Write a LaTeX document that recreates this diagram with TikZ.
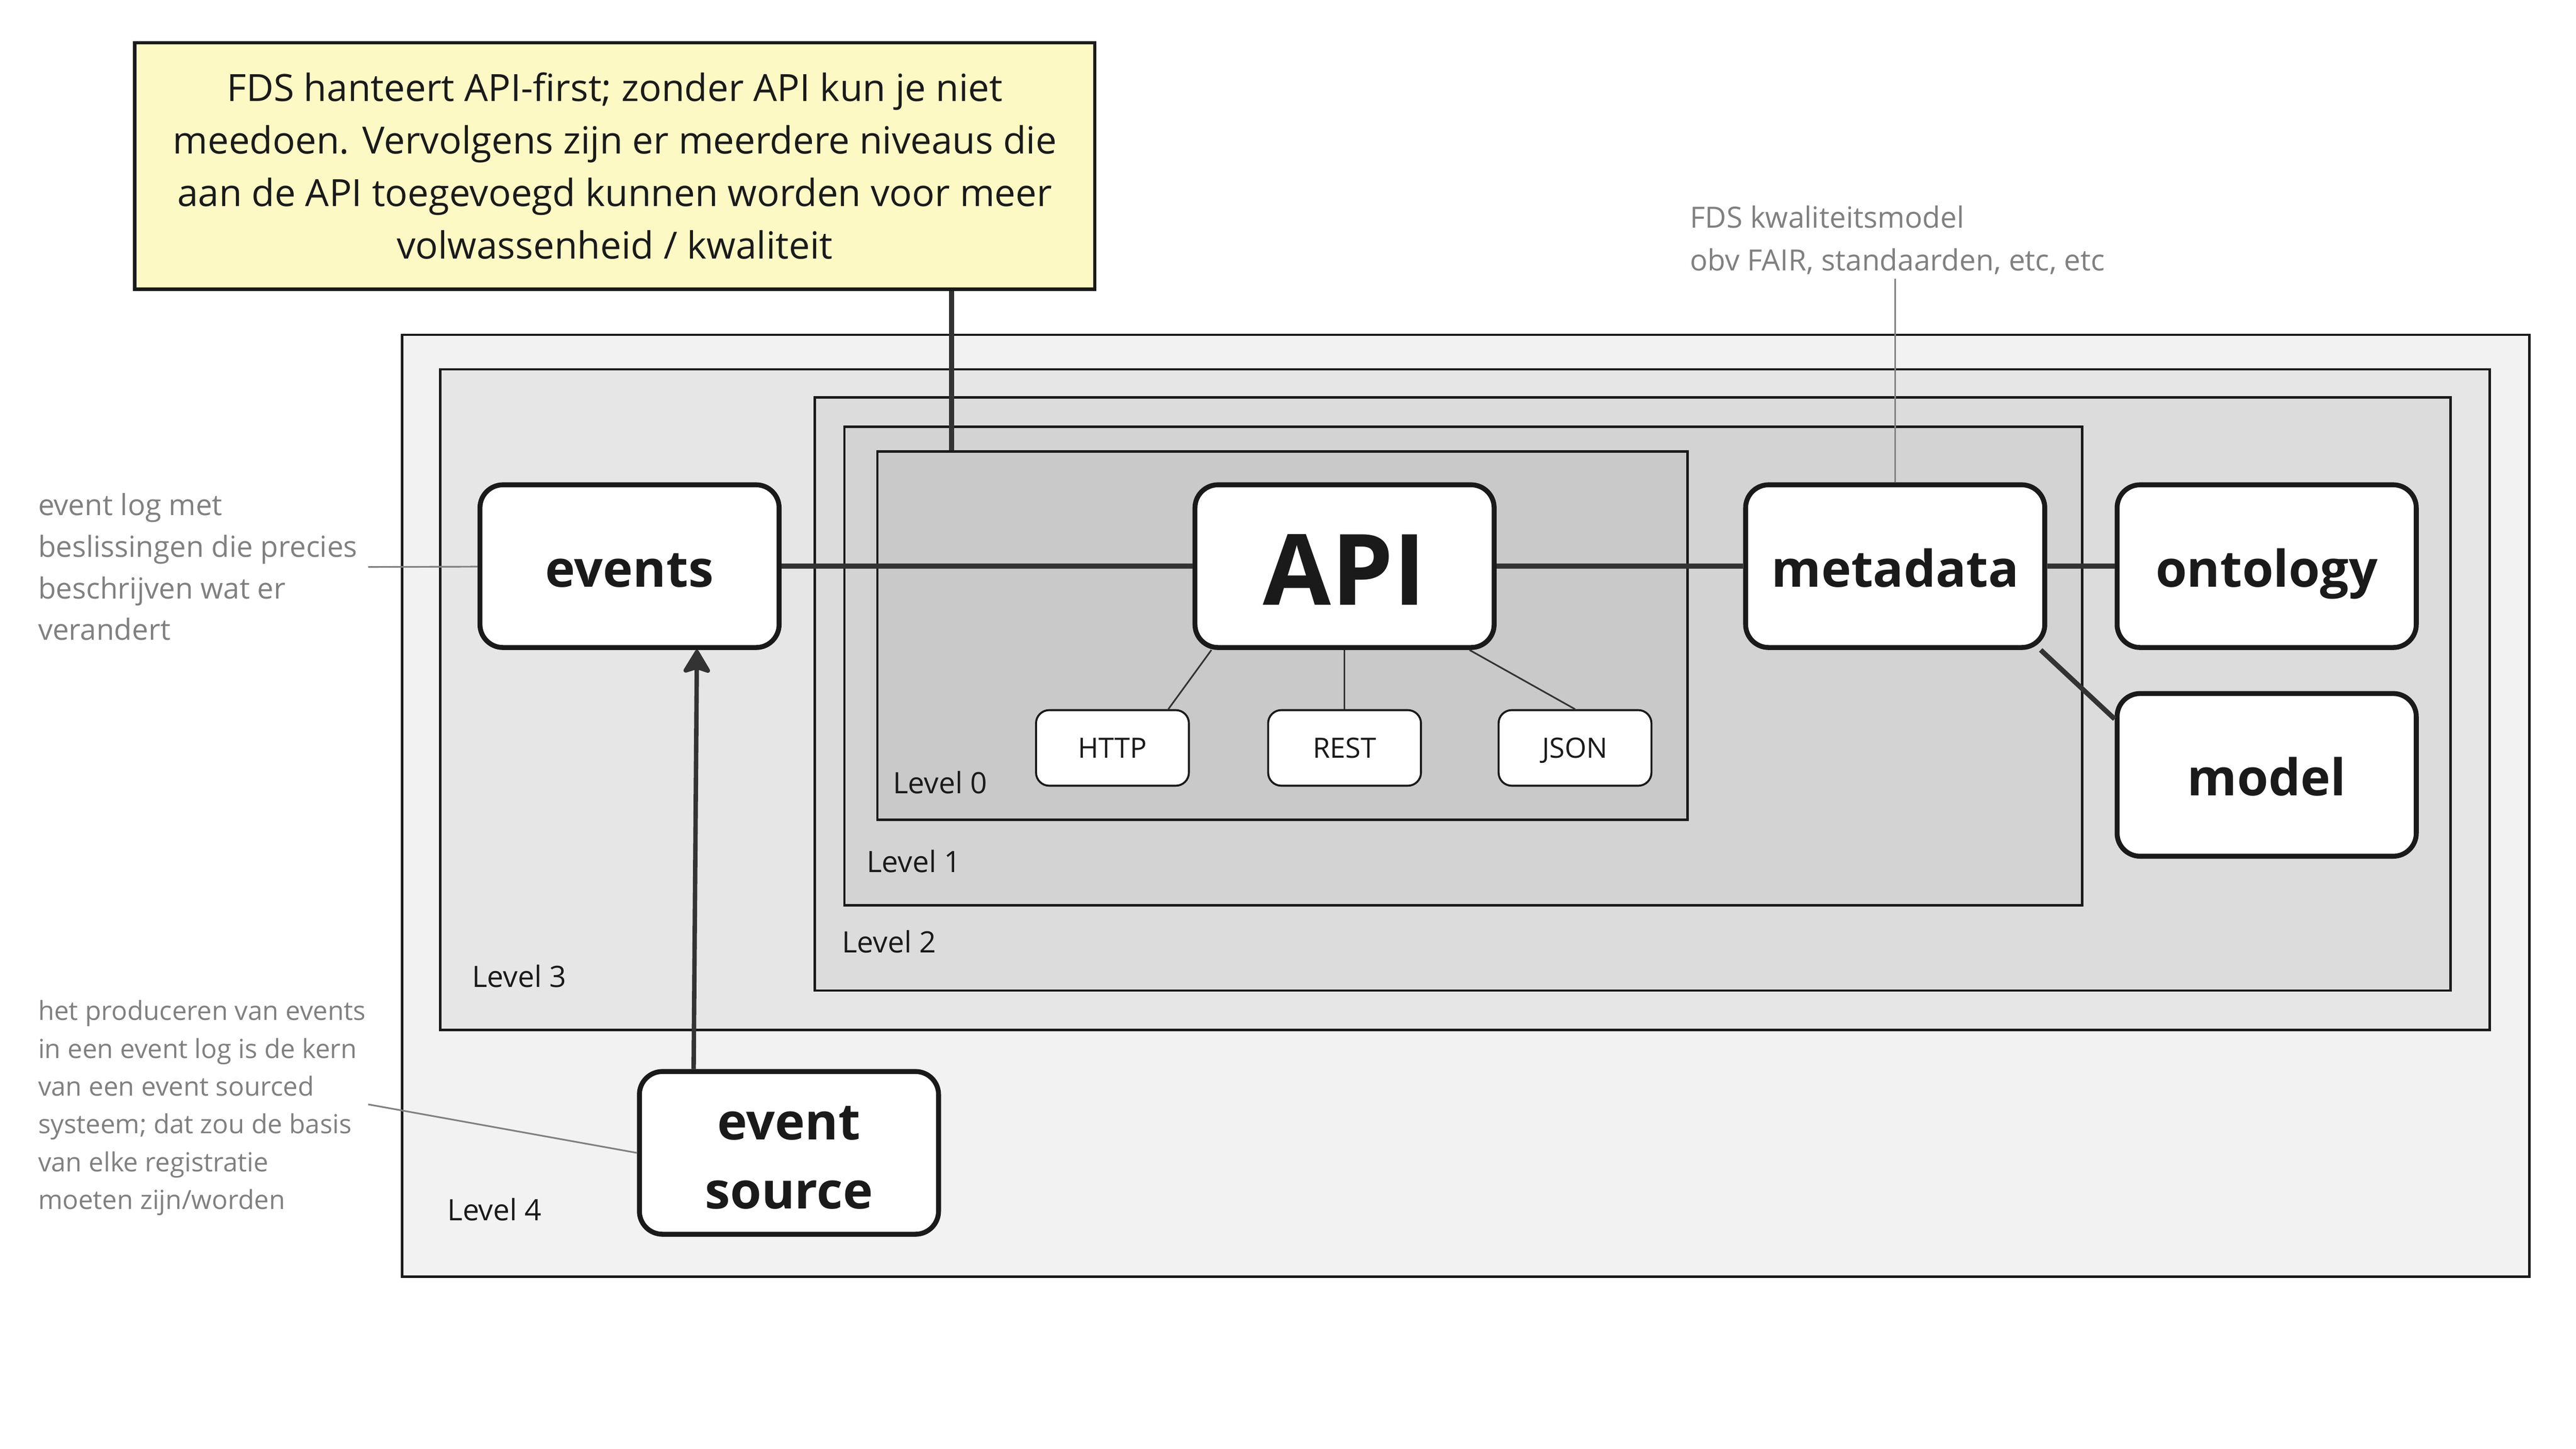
\documentclass[tikz,border=0pt]{standalone}
\usepackage{fontspec}
\setmainfont{Open Sans}
\usetikzlibrary{positioning,arrows.meta}

\definecolor{notefill}{HTML}{FCF9C5}
\definecolor{lvlfour}{HTML}{F2F2F2}
\definecolor{lvlthree}{HTML}{E6E6E6}
\definecolor{lvltwo}{HTML}{DCDCDC}
\definecolor{lvlone}{HTML}{D3D3D3}
\definecolor{lvlzero}{HTML}{C9C9C9}
\definecolor{ink}{HTML}{1A1A1A}
\definecolor{wire}{HTML}{333333}
\definecolor{greytext}{HTML}{808080}

\begin{document}
\begin{tikzpicture}
[
    x=1pt, y=-1pt,
    node distance = 38pt and 48pt,
    levelbox/.style   = {draw=ink,
                         line width=1.5pt,
                         anchor=north west,
                         inner sep=0pt},
    blockstyle/.style = {draw=ink, fill=white,
                         line width=3pt,
                         rounded corners=14pt,
                         minimum width=182pt,
                         minimum height=99pt,
                         align=center,
                         text=ink,
                         text height=25pt,
                         text depth=0pt,
                         font=\fontsize{30.8}{42}\selectfont\bfseries},
    subbox/.style     = {draw=ink, fill=white,
                         line width=1.2pt,
                         rounded corners=8pt,
                         minimum width=93pt,
                         minimum height=46pt,
                         text=ink,
                         text depth=0pt,
                         font=\fontsize{17}{20}\selectfont},
    lvllabel/.style   = {anchor=west,
                         inner sep=0pt,
                         text=ink,
                         font=\fontsize{17.9}{20}\selectfont},
    notestyle/.style  = {draw=ink, fill=notefill,
                         line width=2pt,
                         minimum width=584pt,
                         minimum height=150pt,
                         align=center,
                         text=ink,
                         font=\fontsize{22.8}{32}\selectfont},
    remark/.style     = {anchor=north west,
                         inner sep=0pt,
                         align=left,
                         text=greytext},
    arr/.style        = {line width=2.7pt, draw=wire,
                         -{Stealth[length=16pt,width=19pt,inset=3pt,round]}},
    link/.style       = {line width=3pt, draw=wire},
    thinlink/.style   = {line width=1pt, draw=wire},
    noteline/.style   = {line width=1pt, draw=greytext}
]

\useasboundingbox (0,0) rectangle (1567.2,881.6);

% levels, outer to inner
\node (lvl4) [levelbox, fill=lvlfour,  minimum width=1294pt, minimum height=573pt] at (244,203) {};
\node (lvl3) [levelbox, fill=lvlthree, minimum width=1247pt, minimum height=402pt] at (267,224) {};
\node (lvl2) [levelbox, fill=lvltwo,   minimum width=995pt,  minimum height=361pt] at (495,241) {};
\node (lvl1) [levelbox, fill=lvlone,   minimum width=753pt,  minimum height=291pt] at (513,259) {};
\node (lvl0) [levelbox, fill=lvlzero,  minimum width=493pt,  minimum height=224pt] at (533,274) {};

\node (lab0) [lvllabel] at (543,476) {Level 0};
\node (lab1) [lvllabel] at (527,524) {Level 1};
\node (lab2) [lvllabel] at (512,573) {Level 2};
\node (lab3) [lvllabel] at (287,594) {Level 3};
\node (lab4) [lvllabel] at (272,736) {Level 4};

\node (note) [notestyle] at (374,101) {
FDS hanteert API-first; zonder API kun je niet\\
meedoen. Vervolgens zijn er meerdere niveaus die\\
aan de API toegevoegd kunnen worden voor meer\\
volwassenheid / kwaliteit};

\node (events) [blockstyle] at (383,344.5) {events};
\node (api) [blockstyle, right=250pt of events, text height=47pt,
             font=\fontsize{60}{60}\selectfont\bfseries] {API};
\node (metadata) [blockstyle, right=150pt of api] {metadata};
\node (ontology) [blockstyle, right=41pt of metadata] {ontology};
\node (model) [blockstyle, below=25pt of ontology] {model};
\node (source) [blockstyle, text height=68pt] at (480,701.5) {event\\source};

\node (rest) [subbox, below=36pt of api] {REST};
\node (http) [subbox, left=47pt of rest] {HTTP};
\node (json) [subbox, right=46pt of rest] {JSON};

\draw[link] (events) -- (api);
\draw[link] (api) -- (metadata);
\draw[link] (metadata) -- (ontology);
\draw[link] ([xshift=-4pt]metadata.south east) -- ([yshift=34pt]model.west);

\draw[thinlink] ([xshift=-81pt]api.south) -- ([xshift=34pt]http.north);
\draw[thinlink] (api) -- (rest);
\draw[thinlink] ([xshift=76pt]api.south) -- (json.north);

\draw[arr] ([xshift=-58pt]source.north) -- ([xshift=41pt]events.south);

\coordinate (hook) at ([xshift=205pt]note.south);
\draw[link] (hook) -- (hook |- lvl0.north);

% side remarks
\node (logtxt) [remark, font=\fontsize{17.7}{25.3}\selectfont] at (23,300) {
event log met\\
beslissingen die precies\\
beschrijven wat er\\
verandert
};
\coordinate (logend) at (224,345);
\draw[noteline] (logend) -- (events);

\node (qualtxt) [remark, font=\fontsize{17.8}{26}\selectfont] at (1028,125) {
FDS kwaliteitsmodel\\
obv FAIR, standaarden, etc, etc
};
\draw[noteline] (metadata.north) -- ++(0,-124);

\node (srctxt) [remark, font=\fontsize{16}{23}\selectfont] at (23,608.5) {
het produceren van events\\
in een event log is de kern\\
van een event sourced\\
systeem; dat zou de basis\\
van elke registratie\\
moeten zijn/worden
};
\coordinate (srcend) at (224,672);
\draw[noteline] (srcend) -- (source.west);

\end{tikzpicture}
\end{document}
